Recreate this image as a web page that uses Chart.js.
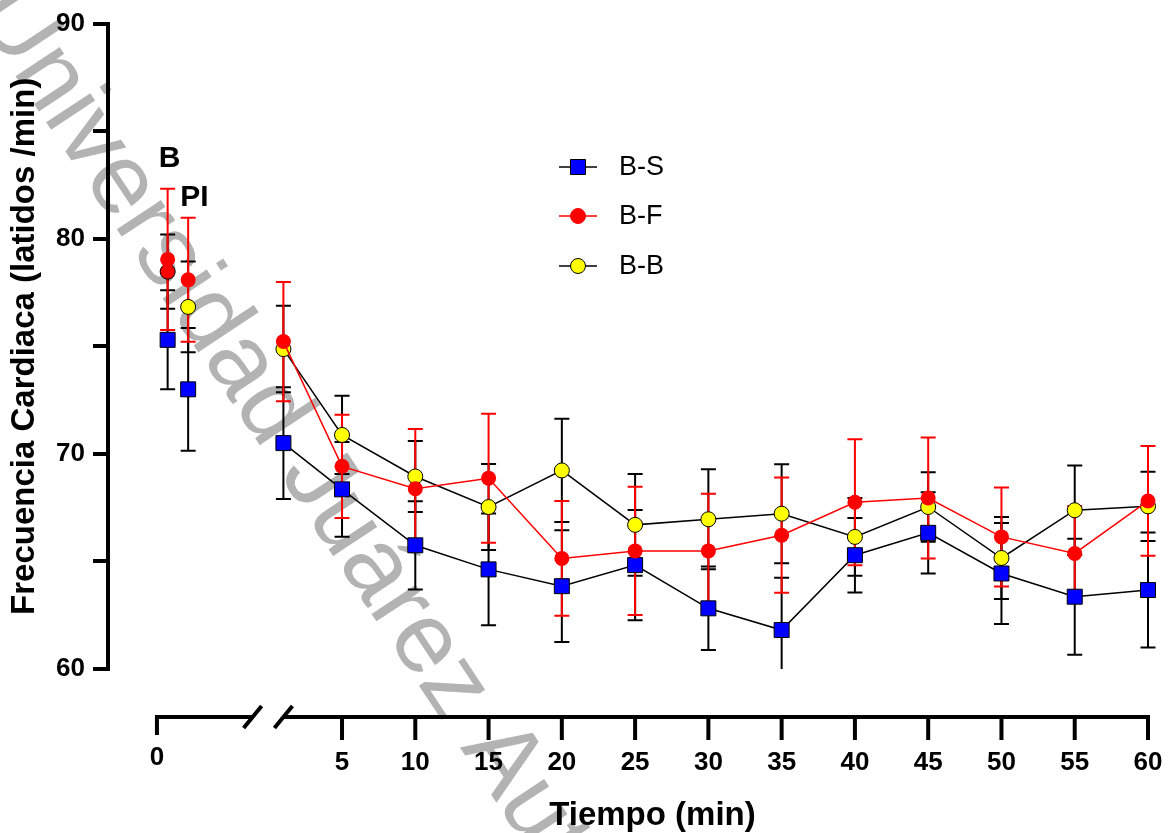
<!DOCTYPE html>
<html>
<head>
<meta charset="utf-8">
<script src="https://cdn.jsdelivr.net/npm/chart.js@4.4.1/dist/chart.umd.min.js"></script>
<style>
  html, body { margin: 0; padding: 0; background: #fff; }
  #wrap { width: 1174px; height: 833px; }
</style>
</head>
<body>
<div id="wrap"><canvas id="hrChart"></canvas></div>
<script>
// time points: basal, post-injection, then minutes after the break
const timeLabels = ['B', 'PI', '1', '5', '10', '15', '20', '25', '30', '35', '40', '45', '50', '55', '60'];
const timePos = [-6.9, -5.5, 1, 5, 10, 15, 20, 25, 30, 35, 40, 45, 50, 55, 60];

const bsMean = [75.3, 73.0, 70.5, 68.35, 65.75, 64.63, 63.85, 64.83, 62.82, 61.81, 65.29, 66.33, 64.44, 63.36, 63.67];
const bsSd   = [2.3, 2.85, 2.6, 2.2, 2.05, 2.6, 2.6, 2.56, 1.94, 2.43, 1.73, 1.89, 2.35, 2.7, 2.67];

const bfMean = [79.04, 78.09, 75.22, 69.42, 68.38, 68.87, 65.14, 65.49, 65.49, 66.22, 67.75, 67.95, 66.14, 65.37, 67.81];
const bfSd   = [3.28, 2.88, 2.77, 2.4, 2.78, 3.0, 2.67, 2.98, 2.66, 2.68, 2.93, 2.81, 2.3, 2.19, 2.55];

const bbMean = [78.47, 76.83, 74.87, 70.88, 68.95, 67.53, 69.23, 66.7, 66.96, 67.22, 66.14, 67.53, 65.16, 67.38, 67.56];
const bbSd   = [1.73, 2.11, 2.01, 1.82, 1.65, 2.0, 2.4, 2.36, 2.32, 2.3, 1.81, 1.62, 1.91, 2.08, 1.61];

const yTicks = [60, 65, 70, 75, 80, 85, 90];
const yTickLabels = ['60', '', '70', '', '80', '', '90'];
const xTickValues = [-7.63, 5, 10, 15, 20, 25, 30, 35, 40, 45, 50, 55, 60];
const xTickLabels = ['0', '5', '10', '15', '20', '25', '30', '35', '40', '45', '50', '55', '60'];

const FONT = "'Liberation Sans', Arial, Helvetica, sans-serif";
const toPts = arr => arr.map((v, i) => ({ x: timePos[i], y: v }));

const watermark = {
  id: 'watermark',
  beforeDraw(chart) {
    const ctx = chart.ctx;
    ctx.save();
    ctx.translate(-5, -5);
    ctx.rotate(56.5 * Math.PI / 180);
    ctx.fillStyle = '#b3b3b3';
    ctx.font = `100px ${FONT}`;
    ctx.textBaseline = 'middle';
    ctx.fillText('Universidad Juárez Autónoma de Tabasco', 0, 0);
    ctx.restore();
  }
};

const errorBars = {
  id: 'errorBars',
  beforeDatasetsDraw(chart) {
    const { ctx, chartArea, scales: { y } } = chart;
    const metas = chart.getSortedVisibleDatasetMetas();
    for (let k = metas.length - 1; k >= 0; k--) {
      const meta = metas[k];
      const ds = chart.data.datasets[meta.index];
      ctx.save();
      ctx.strokeStyle = ds.errColor;
      ctx.lineWidth = 2;
      meta.data.forEach((pt, i) => {
        const m = ds.data[i].y, s = ds.sd[i];
        const top = y.getPixelForValue(m + s);
        const bot = y.getPixelForValue(m - s);
        ctx.beginPath();
        ctx.moveTo(pt.x, Math.max(top, chartArea.top));
        ctx.lineTo(pt.x, Math.min(bot, chartArea.bottom));
        [top, bot].forEach(py => {
          if (py >= chartArea.top && py <= chartArea.bottom) {
            ctx.moveTo(pt.x - 7.5, py);
            ctx.lineTo(pt.x + 7.5, py);
          }
        });
        ctx.stroke();
      });
      ctx.restore();
    }
  }
};

const timeAxis = {
  id: 'timeAxis',
  afterDraw(chart) {
    const { ctx, chartArea, scales: { x } } = chart;
    const yAx = chartArea.bottom + 48;
    const x0 = x.getPixelForValue(xTickValues[0]);
    const xEnd = x.getPixelForValue(60);
    const b1 = x.getPixelForValue(-1.1);
    const b2 = x.getPixelForValue(1.0);
    ctx.save();
    ctx.strokeStyle = '#000';
    ctx.lineWidth = 4;
    ctx.beginPath();
    ctx.moveTo(x0 - 2, yAx); ctx.lineTo(b1, yAx);
    ctx.moveTo(b2, yAx); ctx.lineTo(xEnd + 2, yAx);
    [b1, b2].forEach(bx => { ctx.moveTo(bx - 9, yAx + 11); ctx.lineTo(bx + 9, yAx - 11); });
    xTickValues.forEach((v, i) => {
      const px = x.getPixelForValue(v);
      ctx.moveTo(px, yAx);
      ctx.lineTo(px, yAx + (i === 0 ? 18 : 23));
    });
    ctx.stroke();

    ctx.fillStyle = '#000';
    ctx.textAlign = 'center';
    ctx.font = `bold 26px ${FONT}`;
    xTickValues.forEach((v, i) => {
      ctx.fillText(xTickLabels[i], x.getPixelForValue(v), yAx + (i === 0 ? 48 : 53));
    });
    ctx.font = `bold 33px ${FONT}`;
    ctx.fillText('Tiempo (min)', (x0 + xEnd) / 2, yAx + 108);

    // B / PI markers above the first two points
    ctx.textAlign = 'left';
    ctx.font = `bold 30px ${FONT}`;
    ctx.fillText(timeLabels[0], x.getPixelForValue(timePos[0]) - 9, 167);
    ctx.fillText(timeLabels[1], x.getPixelForValue(timePos[1]) - 8, 206);
    ctx.restore();
  }
};

const legendBox = {
  id: 'legendBox',
  afterDraw(chart) {
    const ctx = chart.ctx;
    const rows = [167, 216, 266];
    const cx = 578;
    ctx.save();
    chart.data.datasets.forEach((ds, i) => {
      const cy = rows[i];
      ctx.strokeStyle = ds.borderColor;
      ctx.lineWidth = 1.5;
      ctx.beginPath();
      ctx.moveTo(cx - 19, cy); ctx.lineTo(cx + 19, cy);
      ctx.stroke();
      ctx.fillStyle = ds.legendFill;
      ctx.strokeStyle = ds.legendStroke;
      ctx.lineWidth = 1;
      ctx.beginPath();
      if (ds.pointStyle === 'rect') ctx.rect(cx - 7.5, cy - 7.5, 15, 15);
      else ctx.arc(cx, cy, 7.5, 0, Math.PI * 2);
      ctx.fill();
      ctx.stroke();
      ctx.fillStyle = '#000';
      ctx.font = `27px ${FONT}`;
      ctx.textBaseline = 'middle';
      ctx.fillText(ds.label, 619, cy + 1);
    });
    ctx.restore();
  }
};

const noLineBeforeBreak = {
  borderColor: c => (c.p0DataIndex < 2 ? 'rgba(0,0,0,0)' : undefined)
};

new Chart(document.getElementById('hrChart'), {
  type: 'line',
  data: {
    datasets: [
      {
        label: 'B-S',
        data: toPts(bsMean),
        sd: bsSd,
        errColor: '#000',
        order: 1,
        borderColor: '#000',
        borderWidth: 1.5,
        pointStyle: 'rect',
        pointRadius: 10.6,
        pointBackgroundColor: '#0000ff',
        pointBorderColor: '#000',
        pointBorderWidth: 1,
        legendFill: '#0000ff',
        legendStroke: '#000',
        segment: noLineBeforeBreak,
        clip: false
      },
      {
        label: 'B-F',
        data: toPts(bfMean),
        sd: bfSd,
        errColor: '#ff0000',
        order: 0,
        borderColor: '#ff0000',
        borderWidth: 1.5,
        pointStyle: 'circle',
        pointRadius: 7.5,
        pointBackgroundColor: '#ff0000',
        pointBorderColor: '#ff0000',
        pointBorderWidth: 0,
        legendFill: '#ff0000',
        legendStroke: '#ff0000',
        segment: noLineBeforeBreak,
        clip: false
      },
      {
        label: 'B-B',
        data: toPts(bbMean),
        sd: bbSd,
        errColor: '#000',
        order: 2,
        borderColor: '#000',
        borderWidth: 1.5,
        pointStyle: 'circle',
        pointRadius: 7.5,
        pointBackgroundColor: bbMean.map((v, i) => (i === 0 ? '#ff0000' : '#ffff00')),
        pointBorderColor: '#000',
        pointBorderWidth: 1,
        legendFill: '#ffff00',
        legendStroke: '#000',
        segment: noLineBeforeBreak,
        clip: false
      }
    ]
  },
  options: {
    responsive: true,
    maintainAspectRatio: false,
    animation: false,
    layout: { padding: { left: 0, top: 22, right: 26, bottom: 164 } },
    plugins: {
      legend: { display: false },
      tooltip: { enabled: false }
    },
    scales: {
      x: {
        type: 'linear',
        min: -10.97,
        max: 60,
        display: false
      },
      y: {
        min: 60,
        max: 90,
        afterBuildTicks: s => { s.ticks = yTicks.map(v => ({ value: v })); },
        afterFit: s => { s.width = 108; },
        border: { display: true, color: '#000', width: 4 },
        grid: { drawOnChartArea: false, drawTicks: true, tickLength: 15, color: '#000', lineWidth: 4 },
        ticks: {
          callback: (v, i) => yTickLabels[i],
          color: '#000',
          padding: 8,
          font: { family: FONT, size: 26, weight: 'bold' }
        },
        title: {
          display: true,
          text: 'Frecuencia Cardiaca (latidos /min)',
          color: '#000',
          padding: { top: 5, bottom: 0 },
          font: { family: FONT, size: 33, weight: 'bold' }
        }
      }
    }
  },
  plugins: [watermark, errorBars, timeAxis, legendBox]
});
</script>
</body>
</html>
